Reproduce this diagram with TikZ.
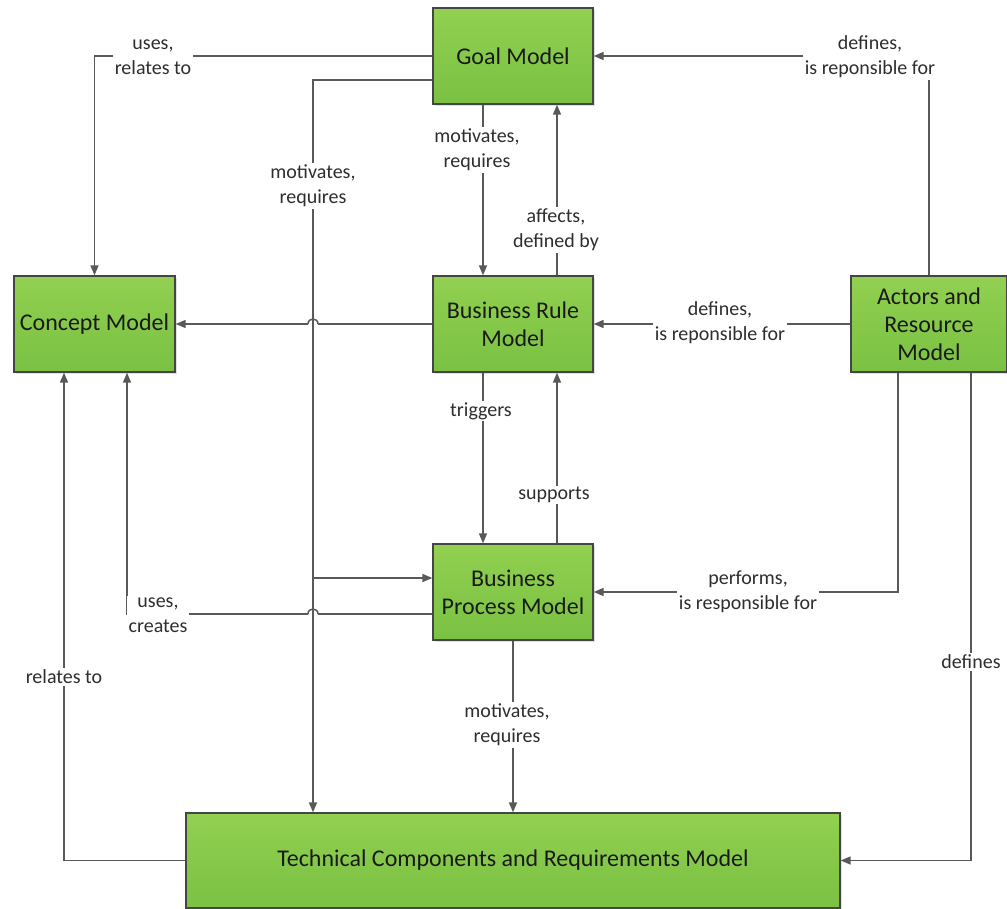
\documentclass[tikz,border=0pt]{standalone}
\usepackage{fontspec}
\setmainfont{Carlito}
\usetikzlibrary{arrows.meta,calc,shadows}
\definecolor{lnc}{HTML}{595959}
\definecolor{gtop}{HTML}{92D050}
\definecolor{gbot}{HTML}{7AC143}
\definecolor{bordc}{HTML}{454545}
\definecolor{txtc}{HTML}{1A1A1A}
\definecolor{lblc}{HTML}{2E2E2E}
\begin{document}
\begin{tikzpicture}[x=1pt,y=-1pt,
  model/.style={draw=bordc,line width=1.3pt,top color=gtop,bottom color=gbot,
    inner sep=0pt,align=center,text=txtc,font=\fontsize{24}{28}\selectfont,
    drop shadow={shadow xshift=1.5pt,shadow yshift=-1.5pt,fill=black!20,opacity=0.6}},
  ln/.style={draw=lnc,line width=1.5pt},
  arr/.style={ln,-{Triangle[length=10pt,width=8pt]}},
  lbl/.style={fill=white,inner sep=1.5pt,align=center,text=lblc,font=\fontsize{20}{25}\selectfont}]
\useasboundingbox (0,0) rectangle (1007,908);
\fill[white] (0,0) rectangle (1007,908);
% boxes
\node[model,minimum width=160pt,minimum height=96pt] (goal) at (513,56) {Goal Model};
\node[model,minimum width=161pt,minimum height=96pt] (concept) at (94.5,324) {Concept Model};
\node[model,minimum width=160pt,minimum height=96pt] (br) at (513,324) {Business Rule\\Model};
\node[model,minimum width=156pt,minimum height=96pt] (actors) at (929,324) {Actors and\\Resource\\Model};
\node[model,minimum width=160pt,minimum height=96pt] (bpm) at (513,592) {Business\\Process Model};
\node[model,minimum width=654pt,minimum height=95pt] (tech) at (513,860.5) {Technical Components and Requirements Model};
% helper coordinates
\coordinate (vx) at (313,0);
\coordinate (goalout) at ([yshift=-24pt]goal.west);
\coordinate (bpmin) at ([yshift=14pt]bpm.west);
\coordinate (bpmout) at ([yshift=-22pt]bpm.west);
\coordinate (hop1) at (vx |- br.west);
\coordinate (hop1r) at ([xshift=5pt]hop1);
\coordinate (hop1l) at ([xshift=-5pt]hop1);
\coordinate (hop2) at (vx |- bpmout);
\coordinate (hop2r) at ([xshift=5pt]hop2);
\coordinate (hop2l) at ([xshift=-5pt]hop2);
% connectors
\draw[arr] (goal.west) -| (concept.north);
\draw[arr] (goalout) -| (vx |- tech.north);
\draw[arr] (vx |- bpmin) -- (bpmin);
\draw[arr] ([xshift=-30pt]goal.south) -- ([xshift=-30pt]br.north);
\draw[arr] ([xshift=44pt]br.north) -- ([xshift=44pt]goal.south);
\draw[arr] (actors.north) |- (goal.east);
\draw[arr] (actors.west) -- (br.east);
\draw[ln] (br.west) -- (hop1r);
\draw[ln] (hop1r) .. controls +(0,-6.7) and +(0,-6.7) .. (hop1l);
\draw[arr] (hop1l) -- (concept.east);
\draw[arr] ([xshift=-30pt]br.south) -- ([xshift=-30pt]bpm.north);
\draw[arr] ([xshift=44pt]bpm.north) -- ([xshift=44pt]br.south);
\draw[arr] ([xshift=-31pt]actors.south) |- (bpm.east);
\draw[ln] (bpmout) -- (hop2r);
\draw[ln] (hop2r) .. controls +(0,-6.7) and +(0,-6.7) .. (hop2l);
\draw[arr] (hop2l) -| ([xshift=32.5pt]concept.south);
\draw[arr] (bpm.south) -- (tech.north -| bpm.south);
\draw[arr] ([xshift=42pt]actors.south) |- (tech.east);
\draw[arr] (tech.west) -| ([xshift=-30.5pt]concept.south);
% labels
\node[lbl] (l1) at (153,57) {uses,\\relates to};
\node[lbl] (l2) at (313,186) {motivates,\\requires};
\node[lbl] (l3) at (477,150) {motivates,\\requires};
\node[lbl] (l4) at (556,230) {affects,\\defined by};
\node[lbl] (l5) at (870,57) {defines,\\is reponsible for};
\node[lbl] (l6) at (720,323) {defines,\\is reponsible for};
\node[lbl] (l7) at (481,411) {triggers};
\node[lbl] (l8) at (554,495) {supports};
\node[lbl] (l9) at (748,592) {performs,\\is responsible for};
\node[lbl] (l10) at (158,615) {uses,\\creates};
\node[lbl] (l11) at (507,725) {motivates,\\requires};
\node[lbl] (l12) at (971,662) {defines};
\node[lbl] (l13) at (64,677) {relates to};
\end{tikzpicture}
\end{document}
